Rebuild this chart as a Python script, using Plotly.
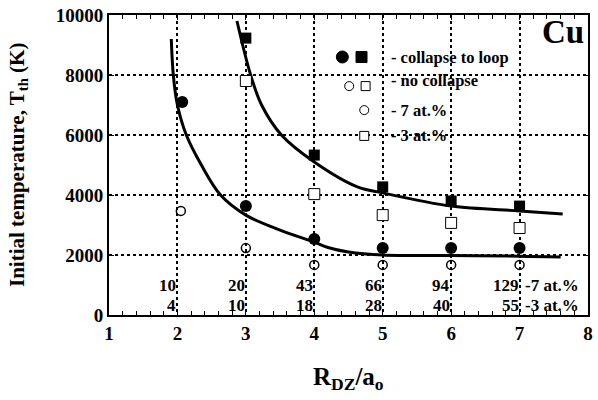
import plotly.graph_objects as go

# ---- data ----
fc_x = [2.07, 3, 4, 5, 6, 7]            # filled circles (7 at.%, collapse)
fc_y = [7100, 3630, 2530, 2230, 2230, 2230]
fs_x = [3, 4, 5, 6, 7]                  # filled squares (3 at.%, collapse)
fs_y = [9230, 5330, 4270, 3800, 3630]
oc_x = [2.05, 3, 4, 5, 6, 7]            # open circles (7 at.%, no collapse)
oc_y = [3470, 2230, 1670, 1670, 1670, 1670]
os_x = [3, 4, 5, 6, 7]                  # open squares (3 at.%, no collapse)
os_y = [7800, 4030, 3330, 3070, 2900]

low_x = [1.91, 1.94, 2.0, 2.13, 2.35, 2.63, 3.0, 3.5, 4.0, 4.2, 4.5, 5.0, 6.0, 7.0, 7.6]
low_y = [9200, 8000, 7000, 6000, 5000, 4000, 3330, 2830, 2430, 2250, 2100, 2000, 1980, 1960, 1930]
up_x = [2.87, 3.07, 3.23, 3.52, 4.0, 4.63, 5.0, 6.0, 7.0, 7.63]
up_y = [9800, 8000, 7000, 6000, 5100, 4270, 4070, 3630, 3470, 3370]

n_x = [2, 3, 4, 5, 6, 7]
n7 = ["10", "20", "43", "66", "94", "129"]
n3 = ["4", "10", "18", "28", "40", "55"]

FONT = "Liberation Serif"
BOLD = dict(family=FONT, color="black", weight="bold")

fig = go.Figure()
fig.add_trace(go.Scatter(x=low_x, y=low_y, mode="lines", line=dict(color="black", width=3, shape="spline", smoothing=1.0)))
fig.add_trace(go.Scatter(x=up_x, y=up_y, mode="lines", line=dict(color="black", width=3, shape="spline", smoothing=1.0)))
fig.add_trace(go.Scatter(x=fc_x, y=fc_y, mode="markers", marker=dict(symbol="circle", size=12, color="black")))
fig.add_trace(go.Scatter(x=fs_x, y=fs_y, mode="markers", marker=dict(symbol="square", size=11, color="black")))
fig.add_trace(go.Scatter(x=oc_x, y=oc_y, mode="markers", marker=dict(symbol="circle-open", size=9, color="black", line=dict(width=1.5))))
fig.add_trace(go.Scatter(x=os_x, y=os_y, mode="markers", marker=dict(symbol="square", size=11, color="white", line=dict(width=1, color="black"))))

# legend glyphs (layout)
leg_glyphs = [
    (4.41, 8600, "circle", 12, "black"),
    (4.69, 8600, "square", 11, "black"),
    (4.51, 7630, "circle", 9, "white"),
    (4.75, 7630, "square", 9, "white"),
    (4.73, 6830, "circle", 9, "white"),
    (4.73, 5970, "square", 9, "white"),
]
for gx, gy, sym, sz, fcol in leg_glyphs:
    fig.add_trace(go.Scatter(x=[gx], y=[gy], mode="markers",
                             marker=dict(symbol=sym, size=sz, color=fcol, line=dict(width=1, color="black"))))

leg_text = [("- collapse to loop", 8600), ("- no collapse", 7830), ("- 7 at.%", 6830), ("- 3 at.%", 5970)]
for t, yy in leg_text:
    fig.add_annotation(x=5.09, y=yy, text=t, showarrow=False, xanchor="left", yanchor="middle",
                       font=dict(BOLD, size=16.5))

fig.add_annotation(x=7.97, y=9450, text="Cu", showarrow=False, xanchor="right", yanchor="middle",
                   font=dict(BOLD, size=33))

for xx, a, b in zip(n_x, n7, n3):
    fig.add_annotation(x=xx, y=970, text=a, showarrow=False, xanchor="right", yanchor="middle", xshift=1,
                       font=dict(BOLD, size=17))
    fig.add_annotation(x=xx, y=320, text=b, showarrow=False, xanchor="right", yanchor="middle", xshift=1,
                       font=dict(BOLD, size=17))
fig.add_annotation(x=7.05, y=970, text="-7 at.%", showarrow=False, xanchor="left", yanchor="middle",
                   font=dict(BOLD, size=17))
fig.add_annotation(x=7.05, y=320, text="-3 at.%", showarrow=False, xanchor="left", yanchor="middle",
                   font=dict(BOLD, size=17))

# axis titles
fig.add_annotation(xref="paper", yref="paper", x=-0.19, y=0.5, xanchor="center", yanchor="middle", textangle=-90,
                   text="Initial temperature, T<sub>th</sub> (K)", showarrow=False,
                   font=dict(BOLD, size=21))
fig.add_annotation(xref="paper", yref="paper", x=0.5, y=-0.21, yanchor="middle",
                   text="R<sub>DZ</sub>/a<sub>o</sub>", showarrow=False,
                   font=dict(BOLD, size=25))

fig.update_layout(
    width=598, height=400,
    margin=dict(l=109, r=5, t=15, b=85),
    paper_bgcolor="white", plot_bgcolor="white",
    showlegend=False,
    font=dict(family=FONT, color="black"),
)
fig.update_xaxes(range=[1, 8], dtick=1, tick0=1, showline=True, linewidth=2, linecolor="black", mirror="ticks",
                 ticks="inside", ticklen=5, tickcolor="black",
                 minor=dict(dtick=0.2, ticks="inside", ticklen=4, tickcolor="black"),
                 showgrid=True, gridcolor="black", griddash="dot", gridwidth=1.5, zeroline=False,
                 tickfont=dict(BOLD, size=19))
fig.update_yaxes(range=[0, 10000], dtick=2000, tickformat="d", showline=True, linewidth=2, linecolor="black", mirror="ticks",
                 ticks="inside", ticklen=5, tickcolor="black",
                 showgrid=True, gridcolor="black", griddash="dot", gridwidth=1.5, zeroline=False,
                 tickfont=dict(BOLD, size=19))

fig.write_html("out.html")
